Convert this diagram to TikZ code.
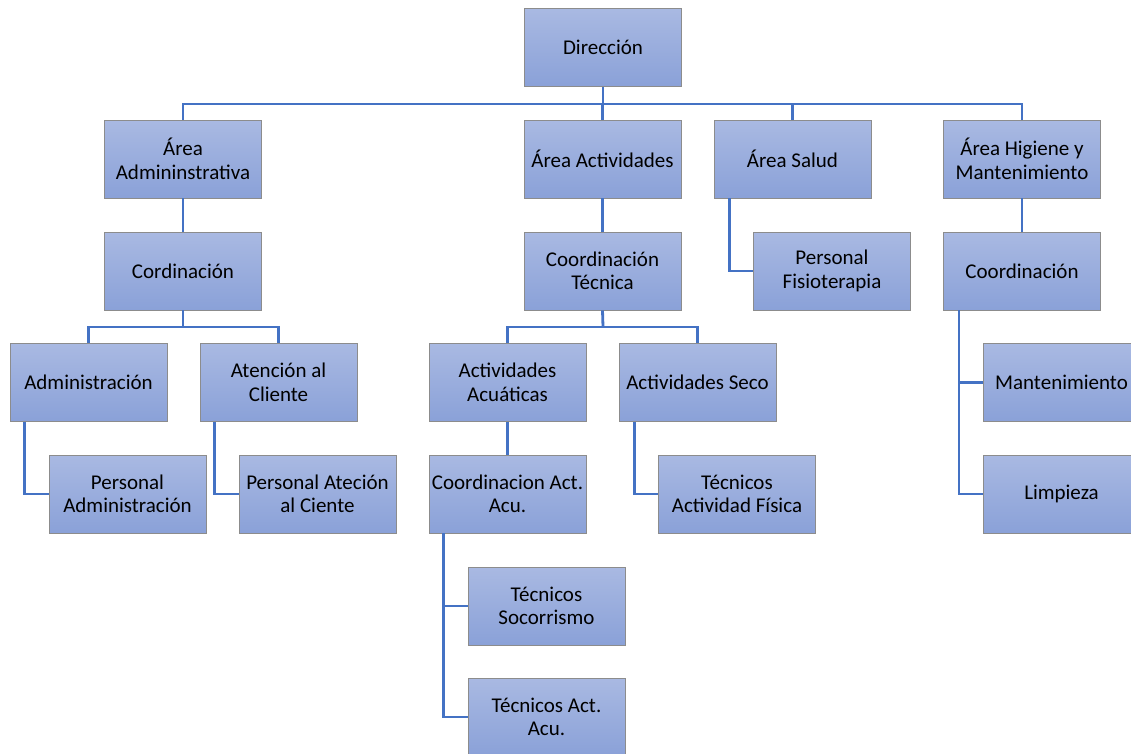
\documentclass[tikz,border=0pt]{standalone}
\usepackage{fontspec}
\setmainfont{Carlito}
\definecolor{boxtop}{HTML}{A9B9E2}
\definecolor{boxbot}{HTML}{8AA1D8}
\definecolor{boxline}{HTML}{8C8C8C}
\definecolor{conncol}{HTML}{4472C4}
\tikzset{
  orgbox/.style={draw=boxline, line width=0.9pt, top color=boxtop, bottom color=boxbot,
    minimum width=157pt, minimum height=78pt, inner sep=2pt, align=center,
    font=\fontsize{21}{23.5}\selectfont, text=black},
  conn/.style={draw=conncol, line width=2.8pt}
}
\begin{document}
\begin{tikzpicture}[x=1pt,y=-1pt]
\useasboundingbox (0,0) rectangle (1131,753);
\clip (0,0) rectangle (1131,753);
% row 1
\node[orgbox] (dir) at (603,47.5) {Dirección};
% row 2
\node[orgbox] (adm) at (183,159) {Área\\Admininstrativa};
\node[orgbox] (act) at (602.5,159) {Área Actividades};
\node[orgbox] (sal) at (792.5,159) {Área Salud};
\node[orgbox] (hig) at (1022,159) {Área Higiene y\\Mantenimiento};
% row 3
\node[orgbox] (cor) at (183,271) {Cordinación};
\node[orgbox] (ctec) at (602.5,271) {Coordinación\\Técnica};
\node[orgbox] (fis) at (832,271) {Personal\\Fisioterapia};
\node[orgbox] (chig) at (1022,271) {Coordinación};
% row 4
\node[orgbox] (admn) at (88.5,382.5) {Administración};
\node[orgbox] (aten) at (278.5,382.5) {Atención al\\Cliente};
\node[orgbox] (acua) at (507.5,382.5) {Actividades\\Acuáticas};
\node[orgbox] (seco) at (697.5,382.5) {Actividades Seco};
\node[orgbox] (mant) at (1061.5,382.5) {Mantenimiento};
% row 5
\node[orgbox] (padm) at (127.5,494) {Personal\\Administración};
\node[orgbox] (pate) at (317.5,494) {Personal Ateción\\al Ciente};
\node[orgbox] (cacu) at (507.5,494) {Coordinacion Act.\\Acu.};
\node[orgbox] (tfis) at (737,494) {Técnicos\\Actividad Física};
\node[orgbox] (limp) at (1061.5,494) {Limpieza};
% row 6-7
\node[orgbox] (soc) at (546.5,606) {Técnicos\\Socorrismo};
\node[orgbox] (tacu) at (546.5,717) {Técnicos Act.\\Acu.};
% connectors: top level
\coordinate (b1) at (603,104);
\draw[conn] (dir.south) -- (b1);
\draw[conn] (adm.north) -- (adm.north |- b1) -- (hig.north |- b1) -- (hig.north);
\draw[conn] (act.north) -- (act.north |- b1);
\draw[conn] (sal.north) -- (sal.north |- b1);
% vertical links
\draw[conn] (adm.south) -- (cor.north);
\draw[conn] (act.south) -- (ctec.north);
\draw[conn] (hig.south) -- (chig.north);
\draw[conn] (acua.south) -- (cacu.north);
% sub buses
\coordinate (b2) at (183,327);
\draw[conn] (cor.south) -- (b2);
\draw[conn] (admn.north) -- (admn.north |- b2) -- (aten.north |- b2) -- (aten.north);
\coordinate (b3) at (603,327);
\draw[conn] (ctec.south) -- (b3);
\draw[conn] (acua.north) -- (acua.north |- b3) -- (seco.north |- b3) -- (seco.north);
% side links
\draw[conn] ([xshift=16pt]sal.south west) |- (fis.west);
\draw[conn] ([xshift=15pt]admn.south west) |- (padm.west);
\draw[conn] ([xshift=15pt]aten.south west) |- (pate.west);
\draw[conn] ([xshift=16pt]seco.south west) |- (tfis.west);
\draw[conn] ([xshift=16pt]chig.south west) |- (mant.west);
\draw[conn] ([xshift=16pt]chig.south west) |- (limp.west);
\draw[conn] ([xshift=15pt]cacu.south west) |- (soc.west);
\draw[conn] ([xshift=15pt]cacu.south west) |- (tacu.west);
\end{tikzpicture}
\end{document}
